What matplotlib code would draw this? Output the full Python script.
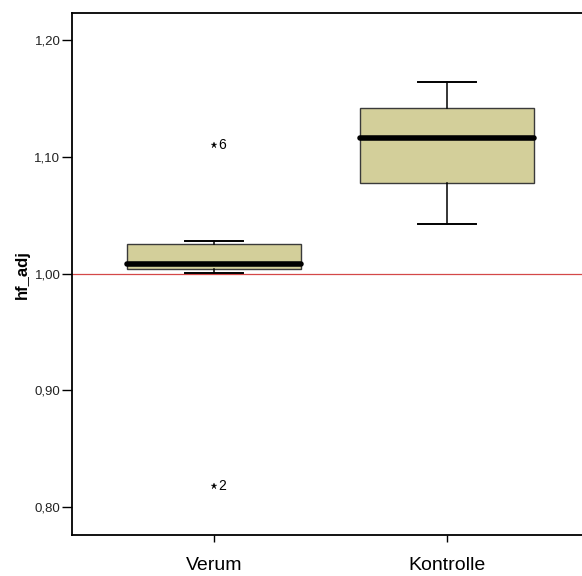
import matplotlib
matplotlib.use("Agg")
import matplotlib.pyplot as plt

plt.rcParams['font.family'] = ['Liberation Sans', 'DejaVu Sans']

categories = ["Verum", "Kontrolle"]
whisker_low = [1.0002, 1.0421]
q1 = [1.0039, 1.0773]
median = [1.0081, 1.1163]
q3 = [1.0250, 1.1420]
whisker_high = [1.0278, 1.1638]
outlier_values = [[1.110, 0.818], []]
outlier_ids = [["6", "2"], []]
yticks = [0.80, 0.90, 1.00, 1.10, 1.20]
ytick_labels = ["0,80", "0,90", "1,00", "1,10", "1,20"]
reference_line = 1.00

fig = plt.figure(figsize=(5.82, 5.76), dpi=100)
ax = fig.add_axes([71.5/582, (576-535)/576, (589.5-71.5)/582, (535-13.3)/576])

stats = []
for i, c in enumerate(categories):
    stats.append(dict(label=c, whislo=whisker_low[i], q1=q1[i], med=median[i],
                      q3=q3[i], whishi=whisker_high[i], fliers=[]))

positions = list(range(len(categories)))
ax.axhline(reference_line, color='#d44848', lw=0.9, zorder=1)
ax.bxp(stats, positions=positions, widths=0.751, patch_artist=True,
       showfliers=False,
       boxprops=dict(facecolor='#d3cf9a', edgecolor='#3a3a3a', linewidth=1.0),
       medianprops=dict(color='black', linewidth=4.0, solid_capstyle='round'),
       whiskerprops=dict(color='black', linewidth=1.1),
       capprops=dict(color='black', linewidth=1.4),
       capwidths=0.253, zorder=2)

for i, (vals, ids) in enumerate(zip(outlier_values, outlier_ids)):
    for v, lab in zip(vals, ids):
        ax.plot([positions[i]], [v], marker='*', color='black', markersize=5,
                markeredgewidth=0.2, linestyle='none', zorder=3)
        ax.annotate(lab, (positions[i], v), xytext=(3, 0), textcoords='offset points',
                    ha='left', va='center', fontsize=10, color='black')

ax.set_xlim(-0.6116, 1.6116)
ax.set_ylim(0.776, 1.2229)
ax.set_xticks(positions)
ax.set_xticklabels(categories, fontsize=14)
ax.set_yticks(yticks)
ax.set_yticklabels(ytick_labels, fontsize=9.5, color='#222222')
ax.tick_params(axis='y', length=7, width=1.0, pad=1)
ax.tick_params(axis='x', length=5, width=1.0, pad=11)
ax.set_ylabel("hf_adj", fontsize=12, fontweight='bold', labelpad=3)
for s in ax.spines.values():
    s.set_linewidth(1.3)
    s.set_color('black')

fig.savefig("out.png", dpi=100)
